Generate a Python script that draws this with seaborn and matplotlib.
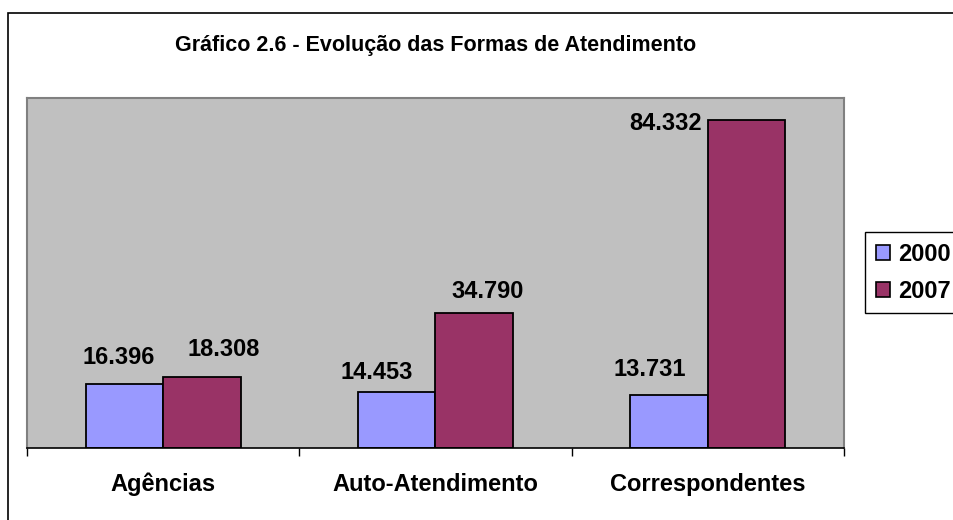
import matplotlib
matplotlib.use("Agg")
import matplotlib.pyplot as plt
import matplotlib.patches as mpatches
import pandas as pd
import seaborn as sns

categories = ["Agências", "Auto-Atendimento", "Correspondentes"]
years = ["2000", "2007"]
values_2000 = [16396, 14453, 13731]
values_2007 = [18308, 34790, 84332]
colors = ["#9999FF", "#993366"]

# label nudges (pixels) as placed in the original, per series
label_dx = [[-6, -20, -19], [22, 13, -45]]
label_dy = [[20, 13, 19], [21, 15, -10]]
label_ha = [["center"] * 3, ["center", "center", "right"]]

df = pd.DataFrame({
    "categoria": categories * 2,
    "ano": [years[0]] * 3 + [years[1]] * 3,
    "valor": values_2000 + values_2007,
})

sns.set_style("white")
plt.rcParams["font.family"] = ["Liberation Sans", "DejaVu Sans"]
plt.rcParams["text.color"] = "black"
plt.rcParams["xtick.color"] = "black"
plt.rcParams["xtick.labelcolor"] = "black"

fig = plt.figure(figsize=(9.54, 5.2), dpi=100)
ax = fig.add_axes([27 / 954, 1 - 448 / 520, (844 - 27) / 954, (448 - 98) / 520])

sns.barplot(data=df, x="categoria", y="valor", hue="ano", palette=colors,
            width=0.57, edgecolor="black", linewidth=1.3, saturation=1,
            ax=ax, legend=False)

ax.set_facecolor("#C0C0C0")
ax.set_ylim(0, 90000)
ax.set_xlim(-0.5, 2.5)
ax.set_yticks([])
ax.set_xlabel("")
ax.set_ylabel("")
for side in ["top", "right", "left"]:
    ax.spines[side].set_color("#808080")
    ax.spines[side].set_linewidth(1.5)
ax.spines["bottom"].set_color("black")
ax.spines["bottom"].set_linewidth(1.2)

ax.set_xticks(range(3))
ax.set_xticklabels(categories, fontsize=17, fontweight="bold", color="black")
ax.tick_params(axis="x", which="major", length=0, pad=18)
ax.set_xticks([-0.5, 0.5, 1.5, 2.5], minor=True)
ax.tick_params(axis="x", which="minor", length=6, width=1, color="black",
               direction="out", bottom=True)

for s, cont in enumerate(ax.containers):
    for i, (bar, v) in enumerate(zip(cont, cont.datavalues)):
        x = bar.get_x() + bar.get_width() / 2
        ax.annotate(f"{v:,.0f}".replace(",", "."), xy=(x, v),
                    xytext=(label_dx[s][i], label_dy[s][i]), textcoords="offset pixels",
                    ha=label_ha[s][i], va="baseline", fontsize=17, fontweight="bold",
                    color="black")

fig.text(436 / 954, 1 - 45 / 520, "Gráfico 2.6 - Evolução das Formas de Atendimento",
         ha="center", va="center", fontsize=15.5, fontweight="bold", color="black")

# outer frame
fig.patches.append(mpatches.Rectangle((8 / 954, -0.1), 1.2, 1.1 - 13 / 520,
                                      transform=fig.transFigure, fill=False,
                                      edgecolor="black", linewidth=1.2))

handles = [mpatches.Patch(facecolor=c, edgecolor="black", linewidth=1.2) for c in colors]
fig.legend(handles, years, loc="upper left", bbox_to_anchor=(865 / 954, 1 - 232 / 520),
           frameon=True, fancybox=False, edgecolor="black", framealpha=1,
           prop={"weight": "bold", "size": 17}, handlelength=0.62, handleheight=0.62,
           handletextpad=0.33, borderpad=0.45, labelspacing=0.6, borderaxespad=0)

fig.savefig("out.png", dpi=100)
